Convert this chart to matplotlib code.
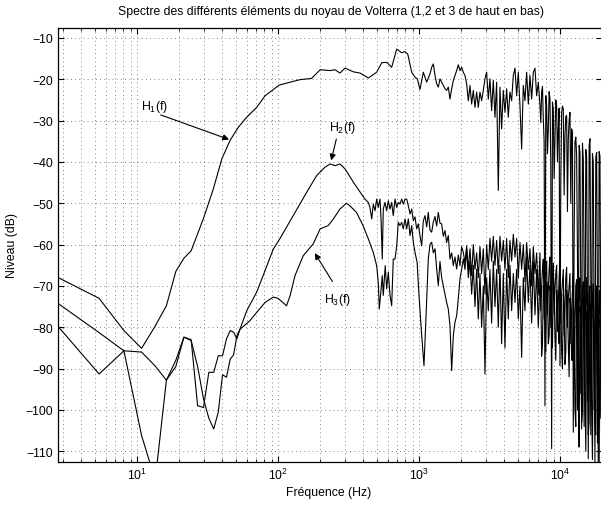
import numpy as np
import matplotlib.pyplot as plt

plt.rcParams['font.family'] = ['Liberation Sans', 'DejaVu Sans']
plt.rcParams['mathtext.fontset'] = 'custom'
plt.rcParams['mathtext.rm'] = 'Liberation Sans'
plt.rcParams['mathtext.it'] = 'Liberation Sans:italic'
plt.rcParams['font.size'] = 8.8

# --- H1 : low / mid frequency part (Hz, dB)
h1_freq = [2.69, 5.38, 8.07, 10.77, 13.46, 16.15, 18.84, 21.5, 24.2, 29.5,
           34.8, 39.9, 45.7, 52.3, 59.9, 70.6, 80.9, 102, 143, 173,
           199, 234, 254, 275, 299, 342, 382, 437, 501, 544,
           590, 640, 695, 754, 796, 832, 888, 937, 973, 1016,
           1073, 1134]
h1_db = [-67.8, -73.0, -80.8, -85.1, -79.7, -74.8, -66.5, -63.3, -61.5, -53.8,
         -46.5, -39.3, -34.8, -31.6, -29.2, -26.8, -24.0, -21.4, -20.1, -19.8,
         -17.7, -17.9, -17.7, -18.5, -17.3, -18.2, -18.5, -19.7, -18.3, -16.0,
         -15.9, -17.1, -12.7, -13.6, -13.3, -13.9, -18.3, -19.5, -19.9, -22.5,
         -18.3, -20.7]

# --- H2 : low / mid frequency part
h2_freq = [2.69, 5.38, 8.07, 10.77, 13.46, 16.15, 18.84, 21.5, 24.2, 26.9,
           29.6, 32.3, 35.0, 37.7, 40.4, 43.1, 45.8, 48.4, 51.1, 53.8,
           60, 70.6, 80.9, 92.5, 103, 128, 160, 188, 215, 234,
           254, 275, 299, 315, 342, 382, 414, 437, 449, 462,
           474, 488, 501, 514, 529, 538, 549, 558, 574, 590,
           606, 623, 640, 657, 676, 695, 713, 733, 754, 774,
           796, 818, 840, 864, 888, 911, 937, 963, 989, 1016,
           1045, 1073, 1103, 1134, 1164]
h2_db = [-74.0, -81.3, -85.7, -86.0, -89.4, -92.8, -88.0, -82.4, -83.0, -99.0,
         -99.4, -90.9, -90.9, -86.9, -86.9, -82.8, -80.8, -81.2, -82.8, -80.4,
         -76.0, -71.5, -66.3, -61.1, -58.6, -53.0, -47.3, -43.3, -41.3, -40.5,
         -40.9, -40.5, -41.7, -42.9, -44.9, -47.3, -49.0, -49.8, -51.0, -53.8,
         -50.2, -51.8, -49.0, -51.0, -49.0, -53.8, -63.5, -51.4, -49.8, -51.8,
         -49.4, -51.4, -49.8, -53.0, -49.0, -51.0, -49.8, -50.2, -49.0, -50.2,
         -49.0, -49.0, -50.6, -52.6, -51.4, -54.2, -53.3, -56.2, -55.0, -57.8,
         -60.3, -54.3, -53.0, -55.7, -52.2]

# --- H3 : low / mid frequency part
h3_freq = [2.69, 5.38, 8.07, 10.77, 13.46, 16.15, 18.84, 21.5, 24.2, 26.9,
           29.6, 32.3, 35.0, 37.7, 40.4, 43.1, 45.8, 48.4, 51.1, 53.8,
           63.2, 70.6, 80.9, 92.5, 100, 115, 122, 132, 151, 178,
           199, 227, 247, 275, 306, 323, 360, 401, 437, 474,
           501, 514, 523, 538, 549, 558, 576, 590, 606, 623,
           640, 657, 676, 695, 713, 733, 754, 774, 796, 818,
           840, 864, 888, 911, 937, 970, 1000, 1045, 1085, 1120,
           1164]
h3_db = [-79.4, -91.3, -85.7, -106.2, -117.0, -92.8, -89.5, -82.4, -83.2, -89.5,
         -97.3, -102.0, -104.6, -100.5, -91.5, -92.1, -87.7, -86.7, -82.0, -80.5,
         -78.4, -76.4, -74.0, -72.7, -73.0, -74.8, -72.3, -67.5, -62.7, -59.8,
         -56.2, -55.4, -53.8, -51.4, -50.0, -50.6, -52.2, -55.4, -58.6, -61.9,
         -65.1, -69.1, -75.6, -70.7, -67.5, -72.3, -65.1, -70.7, -66.7, -72.3,
         -74.8, -63.5, -63.5, -60.3, -54.6, -55.4, -54.6, -56.2, -53.8, -56.2,
         -53.8, -57.8, -55.4, -59.4, -61.9, -64.3, -72.3, -82.0, -89.3, -78.0,
         -63.5]

# --- high frequency band, shared frequency points (Hz)
f_hi = [1197, 1230, 1264, 1299, 1335, 1371, 1409, 1448, 1488, 1529,
        1571, 1614, 1659, 1705, 1752, 1800, 1850, 1901, 1953, 2007,
        2063, 2120, 2178, 2238, 2300, 2363, 2428, 2495, 2564, 2635,
        2707, 2782, 2859, 2938, 3019, 3102, 3187, 3275, 3366, 3459,
        3554, 3652, 3753, 3857, 3963, 4073, 4185, 4300, 4419, 4541,
        4667, 4796, 4928, 5064, 5204, 5347, 5495, 5647, 5803, 5963,
        6127, 6297, 6471, 6649, 6833, 7021, 7216, 7413, 7618, 7828,
        8044, 8267, 8495, 8729, 8970, 9216, 9471, 9732, 10000, 10276,
        10559, 10851, 11150, 11458, 11774, 12099, 12433, 12776, 13128, 13490,
        13862, 14245, 14638, 15042, 15457, 15883, 16321, 16772, 17234, 17710,
        18197, 18699, 19214, 19744]

h1_hi = [-18.7, -17.1, -16.3, -19.1, -21.1, -21.9, -19.9, -20.7, -21.5, -22.3,
         -22.7, -21.9, -24.8, -22.3, -20.3, -19.1, -17.9, -16.5, -17.9, -17.1,
         -18.3, -19.1, -21.1, -25.2, -21.5, -26.0, -22.7, -26.8, -23.1, -26.8,
         -23.1, -25.2, -22.7, -19.9, -18.3, -24.8, -19.9, -27.6, -20.3, -29.2,
         -20.7, -46.9, -21.9, -32.0, -22.7, -28.0, -22.3, -29.2, -23.1, -25.2,
         -19.1, -17.3, -24.0, -18.3, -26.4, -36.9, -21.5, -25.2, -18.3, -26.0,
         -19.1, -24.8, -18.3, -17.3, -24.0, -20.7, -26.4, -23.1, -29.6, -99.0,
         -26.4, -32.0, -24.8, -109.4, -27.2, -34.4, -26.4, -32.0, -89.3, -28.0,
         -27.2, -33.6, -28.8, -34.4, -28.0, -32.0, -105.4, -35.2, -38.5, -96.5,
         -37.7, -104.6, -39.3, -94.9, -38.5, -111.8, -34.4, -98.9, -40.1, -112.6,
         -37.7, -115.0, -38.5, -92.5]

h2_hi = [-56.5, -57.0, -54.5, -53.2, -55.5, -52.2, -54.8, -55.0, -58.0, -56.6,
         -59.5, -57.8, -63.5, -62.0, -65.1, -63.0, -65.9, -62.5, -65.1, -60.5,
         -61.9, -64.5, -60.3, -66.0, -61.0, -67.5, -60.0, -66.0, -62.0, -68.0,
         -60.5, -67.0, -61.0, -72.0, -60.0, -66.0, -58.5, -64.0, -58.0, -65.0,
         -59.0, -67.0, -58.0, -64.0, -59.0, -66.0, -58.5, -68.0, -59.0, -64.0,
         -57.5, -63.0, -58.5, -68.0, -59.5, -66.0, -60.0, -69.0, -59.5, -66.0,
         -61.0, -70.0, -60.5, -67.0, -62.0, -72.0, -62.0, -70.0, -63.5, -72.0,
         -64.0, -71.0, -63.0, -73.0, -64.5, -71.0, -65.0, -74.0, -64.0, -72.0,
         -66.0, -75.0, -65.5, -73.0, -67.0, -76.0, -67.0, -80.0, -68.5, -78.0,
         -68.0, -82.0, -69.0, -80.0, -68.0, -84.0, -70.0, -81.0, -69.5, -86.0,
         -70.0, -83.0, -71.0, -85.0]

h3_hi = [-60.0, -59.4, -62.0, -61.0, -65.9, -69.9, -64.1, -68.0, -70.0, -72.0,
         -74.0, -75.6, -79.6, -90.5, -82.0, -78.8, -77.2, -73.0, -68.3, -66.0,
         -63.5, -66.0, -61.1, -68.0, -64.0, -72.0, -65.0, -75.0, -66.0, -78.0,
         -67.0, -80.0, -70.0, -91.3, -68.0, -76.0, -66.0, -79.0, -64.0, -75.0,
         -66.0, -80.0, -65.0, -84.0, -67.0, -85.0, -66.0, -78.0, -65.0, -76.0,
         -67.0, -74.0, -66.0, -78.0, -70.0, -87.3, -68.0, -76.0, -63.0, -74.0,
         -65.0, -79.0, -64.0, -77.0, -66.0, -80.0, -68.0, -87.0, -70.0, -80.0,
         -69.0, -84.0, -70.0, -78.0, -68.0, -82.0, -71.0, -80.0, -70.0, -86.0,
         -72.0, -89.0, -71.0, -84.0, -73.0, -88.0, -74.0, -100.0, -72.0, -98.0,
         -75.0, -103.0, -73.0, -96.0, -76.0, -106.0, -74.0, -99.0, -77.0, -104.0,
         -75.0, -101.0, -78.0, -108.0]

# --- extra points in the densest part of the spectrum (above ~7 kHz)
f_top = [7314, 7515, 7722, 7935, 8154, 8380, 8610, 8848, 9092, 9342,
         9601, 9865, 10137, 10416, 10705, 10999, 11302, 11614, 11935, 12266,
         12603, 12951, 13308, 13675, 14052, 14440, 14838, 15248, 15668, 16101,
         16546, 17002, 17470, 17950, 18450, 18956, 19480]

h1_top = [-30.5, -21.8, -35.0, -24.0, -38.0, -23.0, -41.0, -25.5, -44.0, -25.0,
          -40.0, -27.0, -45.0, -26.5, -48.0, -29.0, -52.0, -30.0, -50.0, -33.0,
          -58.0, -34.0, -62.0, -36.0, -70.0, -35.5, -66.0, -37.0, -75.0, -36.0,
          -68.0, -38.0, -80.0, -39.0, -72.0, -37.5, -85.0]

h2_top = [-76.0, -66.0, -78.0, -67.0, -77.0, -66.0, -80.0, -68.0, -77.0, -67.0,
          -81.0, -68.0, -79.0, -69.0, -82.0, -68.0, -80.0, -70.0, -84.0, -71.0,
          -95.0, -70.0, -100.0, -72.0, -96.0, -71.0, -104.0, -73.0, -98.0, -72.0,
          -106.0, -74.0, -100.0, -73.0, -108.0, -75.0, -102.0]

h3_top = [-72.0, -84.0, -70.0, -86.0, -71.0, -82.0, -72.0, -85.0, -70.0, -88.0,
          -73.0, -84.0, -72.0, -90.0, -74.0, -86.0, -73.0, -92.0, -75.0, -88.0,
          -76.0, -104.0, -74.0, -109.0, -78.0, -100.0, -77.0, -110.0, -79.0, -103.0,
          -76.0, -112.0, -80.0, -106.0, -78.0, -114.0, -81.0]


def full_curve(f_lo, v_lo, v_hi, v_top):
    f = np.concatenate([f_lo, f_hi, f_top])
    v = np.concatenate([v_lo, v_hi, v_top])
    order = np.argsort(f, kind='stable')
    return f[order], v[order]


W, H = 601, 506
fig = plt.figure(figsize=(W / 100, H / 100), dpi=100)
ax = fig.add_axes([58 / W, 1 - 463 / H, (602.4 - 58) / W, (463 - 29) / H])

for args in [(h1_freq, h1_db, h1_hi, h1_top),
             (h2_freq, h2_db, h2_hi, h2_top),
             (h3_freq, h3_db, h3_hi, h3_top)]:
    f, v = full_curve(*args)
    ax.plot(f, v, color='k', lw=0.8)

ax.set_xscale('log')
ax.set_xlim(2.75, 20000)
ax.set_ylim(-112.6, -7.6)
ax.set_yticks(np.arange(-110, -9, 10))

grid_style = dict(linestyle=(0, (1, 4)), color='0.35', lw=0.6)
ax.grid(True, which='major', **grid_style)
ax.grid(True, which='minor', axis='x', **grid_style)
ax.tick_params(which='both', direction='in', top=True, right=True, labelsize=8.8)
ax.tick_params(which='major', length=4)
ax.tick_params(which='minor', length=2.5)
for s in ax.spines.values():
    s.set_linewidth(0.9)

# curve labels with arrows
arrow = dict(arrowstyle='-|>', color='k', lw=0.8, mutation_scale=9)
ax.text(10.6, -26.5, 'H$_1$(f)', ha='left', va='center')
ax.annotate('', xy=(46.9, -34.8), xytext=(14.1, -28.4), arrowprops=arrow)
ax.text(229, -31.5, 'H$_2$(f)', ha='left', va='center')
ax.annotate('', xy=(236, -40.3), xytext=(262, -33.8), arrowprops=arrow)
ax.text(213, -73.2, 'H$_3$(f)', ha='left', va='center')
ax.annotate('', xy=(178, -61.5), xytext=(249, -69.5), arrowprops=arrow)

fig.text(331 / W, 1 - 12 / H, 'Spectre des différents éléments du noyau de Volterra '
         '(1,2 et 3 de haut en bas)', ha='center', va='center')
fig.text(329 / W, 1 - 493 / H, 'Fréquence (Hz)', ha='center', va='center')
fig.text(12 / W, 1 - 246 / H, 'Niveau (dB)', ha='center', va='center', rotation=90)

fig.savefig('out.png', dpi=100)
